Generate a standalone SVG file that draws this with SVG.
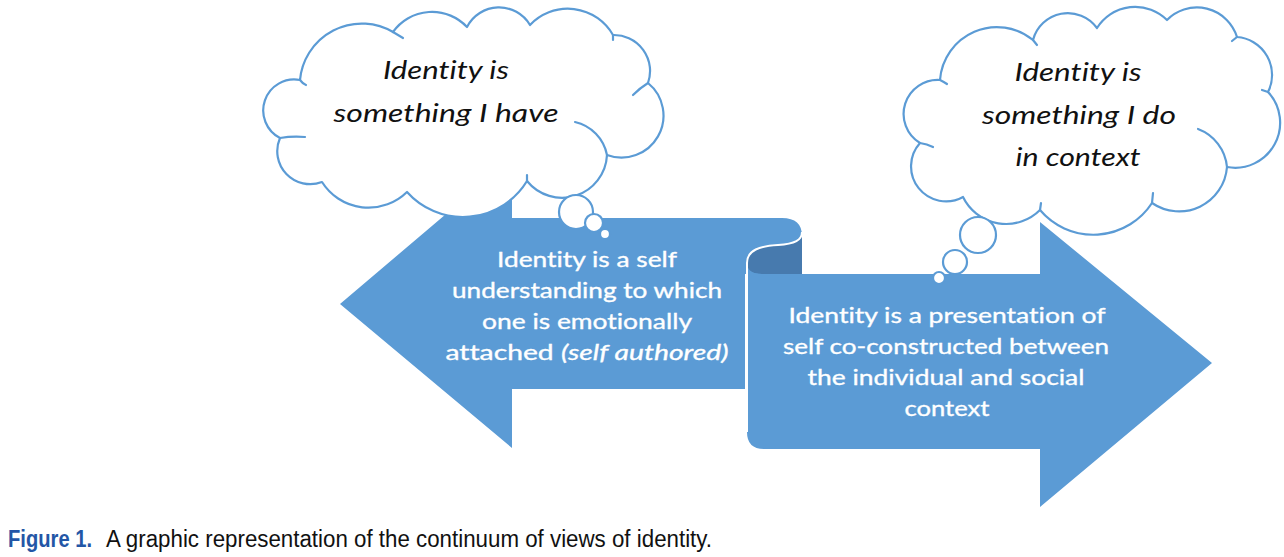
<svg xmlns="http://www.w3.org/2000/svg" width="1284" height="557" viewBox="0 0 1284 557">
  <style>
    .band { fill: #5b9bd5; }
    .curl { fill: #477aae; }
    .edge { fill: none; stroke: #ffffff; stroke-width: 2; }
    .cloud { fill: #ffffff; stroke: #5b9bd5; stroke-width: 2.2; stroke-linejoin: round; }
    .tick { fill: none; stroke: #5b9bd5; stroke-width: 2.2; stroke-linecap: round; }
    .ctext { font-family: Lato, "Open Sans", "Liberation Sans", sans-serif; font-style: italic; font-size: 25px; fill: #111111; text-anchor: middle; font-variant-ligatures: none; }
    .btext { font-family: Lato, "Open Sans", "Liberation Sans", sans-serif; font-size: 22px; fill: #ffffff; stroke: #ffffff; stroke-width: 0.35; text-anchor: middle; font-variant-ligatures: none; }
    .cap { font-family: "Liberation Sans Narrow", "Liberation Sans", sans-serif; font-size: 23px; }
  </style>
  <rect width="1284" height="557" fill="#ffffff"/>

  <g id="connectors">
    <g id="arrow-left">
      <path class="band" d="M340,304 L512,158 L512,218 L782,218 Q802,218 802,236 L802,274 L745,274 L745,389 L512,389 L512,448 Z"/>
    </g>
    <g id="arrow-right">
      <path class="curl" d="M747,263 C747,250 760,246 778,245 C795,244 802,240 802,233 L802,274 L762,274 Q747,274 747,263 Z"/>
      <path class="band" d="M747,263 Q747,274 762,274 L1040,274 L1040,222 L1212,363 L1040,507 L1040,449 L764,449 Q747,449 747,432 Z"/>
      <path class="edge" d="M747,432 L747,263 C747,250 760,246 778,245 C795,244 802,240 802,232"/>
    </g>
  </g>

  <g id="text-left-arrow">
    <text class="btext" x="587" y="267" textLength="180" lengthAdjust="spacingAndGlyphs">Identity is a self</text>
    <text class="btext" x="587" y="298" textLength="270" lengthAdjust="spacingAndGlyphs">understanding to which</text>
    <text class="btext" x="587" y="329" textLength="210" lengthAdjust="spacingAndGlyphs">one is emotionally</text>
    <text class="btext" x="587" y="360" textLength="283" lengthAdjust="spacingAndGlyphs">attached  <tspan font-style="italic">(self authored)</tspan></text>
  </g>

  <g id="text-right-arrow">
    <text class="btext" x="947" y="323" textLength="317" lengthAdjust="spacingAndGlyphs">Identity is a presentation of</text>
    <text class="btext" x="946" y="354" textLength="326" lengthAdjust="spacingAndGlyphs">self co-constructed between</text>
    <text class="btext" x="946" y="385" textLength="277" lengthAdjust="spacingAndGlyphs">the individual and social</text>
    <text class="btext" x="947" y="416" textLength="85" lengthAdjust="spacingAndGlyphs">context</text>
  </g>

  <g id="cloud-left">
    <path class="cloud" d="M300,80 A62,62 0 0 1 393,32 A48,48 0 0 1 467,27 A36,36 0 0 1 530,25 A52,52 0 0 1 613,35 A36,36 0 0 1 648,83 A42,42 0 0 1 607,155 A45,45 0 0 1 527,181 A75,75 0 0 1 407,192 A55,55 0 0 1 322,182 A33,33 0 0 1 280,138 A31,31 0 0 1 300,80 Z"/>
    <path class="tick" d="M280,138 Q292,136 305,137"/>
    <path class="tick" d="M300,80 Q303,84 306,85"/>
    <path class="tick" d="M575,122 A42,42 0 0 1 607,155"/>
    <path class="tick" d="M648,83 Q640,88 633,95"/>
    <path class="tick" d="M613,35 L613,40"/>
    <path class="tick" d="M393,32 Q398,35 403,38"/>
    <path class="tick" d="M527,181 L527,175"/>
    <circle class="cloud" cx="576" cy="212" r="17"/>
    <circle class="cloud" cx="594" cy="223" r="9"/>
    <circle class="cloud" cx="605" cy="234" r="5"/>
    <text class="ctext" x="446" y="79" textLength="126" lengthAdjust="spacingAndGlyphs">Identity is</text>
    <text class="ctext" x="446" y="122" textLength="225" lengthAdjust="spacingAndGlyphs">something I have</text>
  </g>

  <g id="cloud-right">
    <path class="cloud" d="M940,80 A57,57 0 0 1 1033,40 A36,36 0 0 1 1097,28 A45,45 0 0 1 1167,20 A42,42 0 0 1 1237,37 A38,38 0 0 1 1268,92 A45,45 0 0 1 1227,167 A48,48 0 0 1 1152,203 A70,70 0 0 1 1040,210 A48,48 0 0 1 963,197 A35,35 0 0 1 920,143 A34,34 0 0 1 940,80 Z"/>
    <path class="tick" d="M1198,129 A45,45 0 0 1 1227,167"/>
    <path class="tick" d="M1152,203 L1153,193"/>
    <path class="tick" d="M1033,40 L1037,45"/>
    <path class="tick" d="M1237,37 L1232,41"/>
    <path class="tick" d="M1268,92 L1262,90"/>
    <path class="tick" d="M920,143 Q927,144 933,147"/>
    <path class="tick" d="M940,80 Q944,82 947,84"/>
    <path class="tick" d="M1040,210 L1041,203"/>
    <circle class="cloud" cx="978" cy="235" r="18"/>
    <circle class="cloud" cx="955" cy="262" r="12"/>
    <circle class="cloud" cx="939" cy="278" r="6"/>
    <text class="ctext" x="1078" y="81" textLength="127" lengthAdjust="spacingAndGlyphs">Identity is</text>
    <text class="ctext" x="1079" y="124" textLength="194" lengthAdjust="spacingAndGlyphs">something I do</text>
    <text class="ctext" x="1078" y="166" textLength="125" lengthAdjust="spacingAndGlyphs">in context</text>
  </g>

  <g id="caption">
    <text class="cap" x="8" y="547" fill="#2356a6" font-weight="bold" textLength="84" lengthAdjust="spacingAndGlyphs">Figure 1.</text>
    <text class="cap" x="106" y="547" fill="#111111" textLength="606" lengthAdjust="spacingAndGlyphs">A graphic representation of the continuum of views of identity.</text>
  </g>
</svg>
